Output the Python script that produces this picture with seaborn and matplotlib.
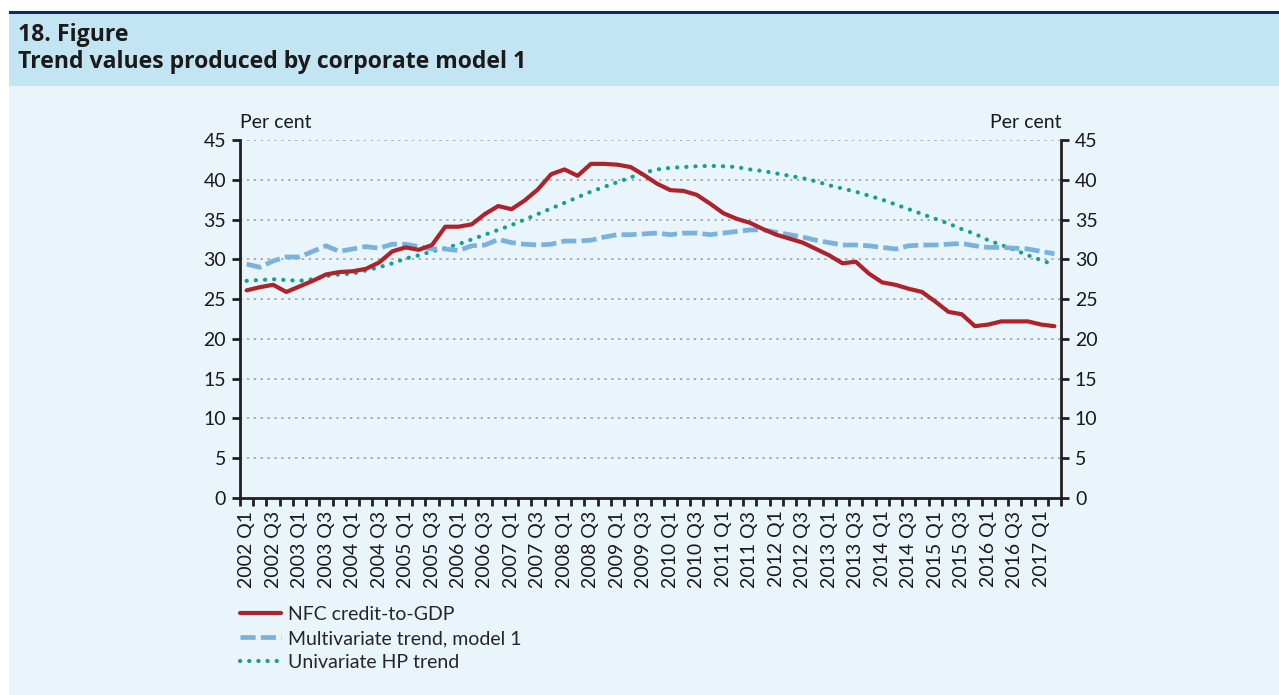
import numpy as np
import pandas as pd
import matplotlib
matplotlib.use("Agg")
import matplotlib.pyplot as plt
from matplotlib.patches import Rectangle
from matplotlib.lines import Line2D
import seaborn as sns

# Quarterly observations, 2002 Q1 - 2017 Q2
years = list(range(2002, 2018))
quarters = [f"{y} Q{q}" for y in years for q in (1, 2, 3, 4)][:62]

nfc_credit_to_gdp = [
    26.1, 26.5, 26.8, 25.9, 26.6, 27.3, 28.1, 28.4, 28.5, 28.8,
    29.6, 31.0, 31.5, 31.2, 31.8, 34.1, 34.1, 34.4, 35.7, 36.7,
    36.3, 37.4, 38.8, 40.7, 41.3, 40.5, 42.0, 42.0, 41.9, 41.6,
    40.6, 39.5, 38.7, 38.6, 38.1, 37.0, 35.8, 35.1, 34.6, 33.8,
    33.1, 32.6, 32.1, 31.3, 30.5, 29.5, 29.7, 28.2, 27.1, 26.8,
    26.3, 25.9, 24.7, 23.4, 23.1, 21.6, 21.8, 22.2, 22.2, 22.2,
    21.8, 21.6,
]
multivariate_trend = [
    29.4, 29.0, 29.8, 30.3, 30.3, 31.0, 31.7, 31.0, 31.3, 31.6,
    31.4, 31.9, 31.9, 31.6, 31.3, 31.3, 31.1, 31.7, 31.8, 32.5,
    32.1, 31.9, 31.8, 31.9, 32.3, 32.3, 32.4, 32.8, 33.1, 33.1,
    33.2, 33.3, 33.1, 33.3, 33.3, 33.1, 33.3, 33.5, 33.7, 33.7,
    33.4, 33.1, 32.8, 32.4, 32.1, 31.8, 31.8, 31.7, 31.5, 31.3,
    31.7, 31.8, 31.8, 31.9, 32.0, 31.7, 31.5, 31.5, 31.4, 31.3,
    31.0, 30.7,
]
hp_trend = [
    27.3, 27.4, 27.5, 27.4, 27.3, 27.5, 27.9, 28.1, 28.2, 28.6,
    29.0, 29.5, 30.1, 30.5, 31.0, 31.4, 31.9, 32.5, 33.1, 33.7,
    34.3, 35.0, 35.7, 36.4, 37.1, 37.8, 38.5, 39.1, 39.7, 40.3,
    40.9, 41.3, 41.5, 41.6, 41.7, 41.75, 41.7, 41.6, 41.3, 41.1,
    40.8, 40.5, 40.2, 39.8, 39.3, 38.9, 38.5, 38.0, 37.5, 36.9,
    36.3, 35.7, 35.1, 34.5, 33.8, 33.2, 32.4, 31.8, 31.2, 30.5,
    29.9, 29.3,
]
series_names = ["NFC credit-to-GDP", "Multivariate trend, model 1", "Univariate HP trend"]
y_ticks = list(range(0, 50, 5))

RED = "#b0222a"
BLUE = "#7ab2dd"
TEAL = "#16a090"
HEADER_BG = "#c3e4f3"
PANEL_BG = "#e9f4fb"
NAVY = "#0e2a5e"
AXIS = "#231f20"
TEXT = "#1a1a1a"
FS = 14

RED_STYLE = dict(color=RED, linewidth=3.0, solid_joinstyle="round")
BLUE_STYLE = dict(color=BLUE, linewidth=3.4, linestyle=(0, (3.2, 1.1)))
TEAL_STYLE = dict(color=TEAL, linewidth=3.0, linestyle=(0, (0.05, 2.15)), dash_capstyle="round")

sns.set_theme(style="white")
plt.rcParams["font.family"] = ["Lato", "DejaVu Sans"]

W, H = 1279, 695
fig = plt.figure(figsize=(W / 100, H / 100), dpi=100)
fig.patch.set_facecolor("white")

def fx(px):
    return px / W

def fy(py):
    return 1 - py / H

# Background frame: navy rule, title band, chart panel
fig.patches.append(Rectangle((fx(9), fy(695)), fx(W - 9), 609 / H, transform=fig.transFigure,
                             facecolor=PANEL_BG, edgecolor="none", zorder=-10))
fig.patches.append(Rectangle((fx(9), fy(86)), fx(W - 9), 72 / H, transform=fig.transFigure,
                             facecolor=HEADER_BG, edgecolor="none", zorder=-9))
fig.patches.append(Rectangle((fx(9), fy(14)), fx(W - 9), 3 / H, transform=fig.transFigure,
                             facecolor=NAVY, edgecolor="none", zorder=-8))

title_font = ["Open Sans", "DejaVu Sans"]
fig.text(fx(18), fy(35), "18. Figure", fontsize=16.6, fontweight="bold", family=title_font,
         color=TEXT, va="center", ha="left")
fig.text(fx(18), fy(62), "Trend values produced by corporate model 1", fontsize=16.6,
         fontweight="bold", family=title_font, color=TEXT, va="center", ha="left")

ax = fig.add_axes([fx(240), fy(498), fx(1061 - 240), (498 - 140) / H])
ax.set_facecolor("none")

df = pd.DataFrame({
    "idx": np.arange(len(quarters)),
    "quarter": quarters,
    series_names[0]: nfc_credit_to_gdp,
    series_names[1]: multivariate_trend,
    series_names[2]: hp_trend,
})

sns.lineplot(data=df, x="idx", y=series_names[2], ax=ax, zorder=3, **TEAL_STYLE)
sns.lineplot(data=df, x="idx", y=series_names[1], ax=ax, zorder=4, **BLUE_STYLE)
sns.lineplot(data=df, x="idx", y=series_names[0], ax=ax, zorder=5, **RED_STYLE)

ax.set_xlim(-0.5, len(quarters) - 0.5)
ax.set_ylim(0, 45)
ax.set_xlabel("")
ax.set_ylabel("")

# Dotted horizontal gridlines
for v in y_ticks[1:]:
    ax.axhline(v, color="#9a9a9a", linewidth=1.1, linestyle=(0, (1.5, 3.0)), zorder=1)

for side in ("left", "right", "bottom"):
    ax.spines[side].set_visible(True)
    ax.spines[side].set_color(AXIS)
    ax.spines[side].set_linewidth(2.0)
ax.spines["top"].set_visible(False)

ax.set_yticks(y_ticks)
ax.set_yticklabels([str(v) for v in y_ticks])
ax.tick_params(axis="y", which="major", left=True, right=True, labelleft=True, labelright=True,
               direction="out", length=6, width=2, color=AXIS, labelsize=FS, labelcolor=TEXT, pad=4)

label_pos = np.arange(0, len(quarters), 2)
ax.set_xticks(label_pos)
ax.set_xticklabels([quarters[i] for i in label_pos], rotation=90)
ax.set_xticks(np.arange(-0.5, len(quarters), 1.0), minor=True)
ax.tick_params(axis="x", which="major", bottom=False, length=0, labelsize=FS, labelcolor=TEXT, pad=9)
ax.tick_params(axis="x", which="minor", bottom=True, direction="out", length=6, width=2, color=AXIS)

fig.text(fx(240), fy(122), "Per cent", fontsize=FS, color=TEXT, ha="left", va="center")
fig.text(fx(1062), fy(122), "Per cent", fontsize=FS, color=TEXT, ha="right", va="center")

handles = [Line2D([], [], **RED_STYLE), Line2D([], [], **BLUE_STYLE), Line2D([], [], **TEAL_STYLE)]
fig.legend(handles, series_names, loc="upper left", bbox_to_anchor=(fx(236), fy(602)),
           frameon=False, fontsize=FS, handlelength=2.1, handletextpad=0.4,
           labelspacing=0.36, borderaxespad=0, borderpad=0.2)

fig.savefig("out.png", dpi=100, facecolor=fig.get_facecolor())
